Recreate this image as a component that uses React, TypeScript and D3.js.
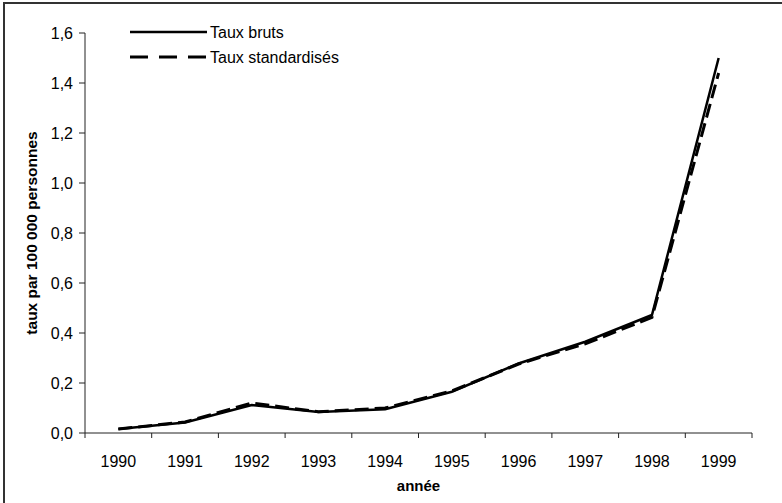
import React from "react";
import * as d3 from "d3";

const years = ["1990", "1991", "1992", "1993", "1994", "1995", "1996", "1997", "1998", "1999"];
const tauxBruts = [0.016, 0.042, 0.112, 0.084, 0.095, 0.165, 0.278, 0.365, 0.472, 1.5];
const tauxStandardises = [0.016, 0.044, 0.12, 0.085, 0.1, 0.168, 0.276, 0.357, 0.462, 1.44];
const yTicks = [0, 0.2, 0.4, 0.6, 0.8, 1.0, 1.2, 1.4, 1.6];
const seriesNames = ["Taux bruts", "Taux standardisés"];

const W = 782;
const H = 503;
const left = 85;
const right = 752;
const top = 33;
const bottom = 433;
const font = "'Liberation Sans', Arial, sans-serif";

export default function App() {
  const x = d3.scaleBand<string>().domain(years).range([left, right]);
  const y = d3.scaleLinear().domain([0, 1.6]).range([bottom, top]);
  const fmt = (v: number) => d3.format(".1f")(v).replace(".", ",");
  const line = d3
    .line<number>()
    .x((_, i) => (x(years[i]) as number) + x.bandwidth() / 2)
    .y((d) => y(d));
  const boundaries = years.map((yr) => x(yr) as number).concat([right]);

  return (
    <svg
      width={W}
      height={H}
      style={{ position: "absolute", left: 0, top: 0, background: "#fff" }}
      fontFamily={font}
    >
      <rect x={0} y={0} width={W} height={H} fill="#fff" />
      {/* outer border (cropped on right/bottom) */}
      <path d={`M4,${H + 5} L4,3 L${W + 5},3`} fill="none" stroke="#333" strokeWidth={2} />

      {/* y axis */}
      <line x1={left} x2={left} y1={y(1.6)} y2={bottom} stroke="#222" strokeWidth={1} />
      {yTicks.map((t) => (
        <g key={t}>
          <line x1={left - 6} x2={left} y1={y(t)} y2={y(t)} stroke="#222" />
          <text x={left - 12} y={y(t) + 5.5} textAnchor="end" fontSize={16} fill="#000">
            {fmt(t)}
          </text>
        </g>
      ))}

      {/* x axis */}
      <line x1={left} x2={right} y1={bottom} y2={bottom} stroke="#222" strokeWidth={1} />
      {boundaries.map((bx, i) => (
        <line key={i} x1={bx} x2={bx} y1={bottom} y2={bottom + 5} stroke="#222" />
      ))}
      {years.map((yr) => (
        <text
          key={yr}
          x={(x(yr) as number) + x.bandwidth() / 2}
          y={467}
          textAnchor="middle"
          fontSize={16}
          fill="#000"
        >
          {yr}
        </text>
      ))}
      <text x={(left + right) / 2} y={491} textAnchor="middle" fontSize={15} fontWeight="bold">
        année
      </text>
      <text
        transform={`translate(37,${(top + bottom) / 2}) rotate(-90)`}
        textAnchor="middle"
        fontSize={15.5}
        fontWeight="bold"
      >
        taux par 100 000 personnes
      </text>

      {/* series */}
      <path d={line(tauxStandardises) || ""} fill="none" stroke="#000" strokeWidth={3} strokeDasharray="14,6" />
      <path d={line(tauxBruts) || ""} fill="none" stroke="#000" strokeWidth={2.5} />

      {/* legend */}
      <line x1={130} x2={207} y1={32} y2={32} stroke="#000" strokeWidth={2.5} />
      <text x={210} y={37.5} fontSize={16}>{seriesNames[0]}</text>
      <line x1={130} x2={207} y1={57} y2={57} stroke="#000" strokeWidth={3} strokeDasharray="18,11" />
      <text x={210} y={62.5} fontSize={16}>{seriesNames[1]}</text>
    </svg>
  );
}
